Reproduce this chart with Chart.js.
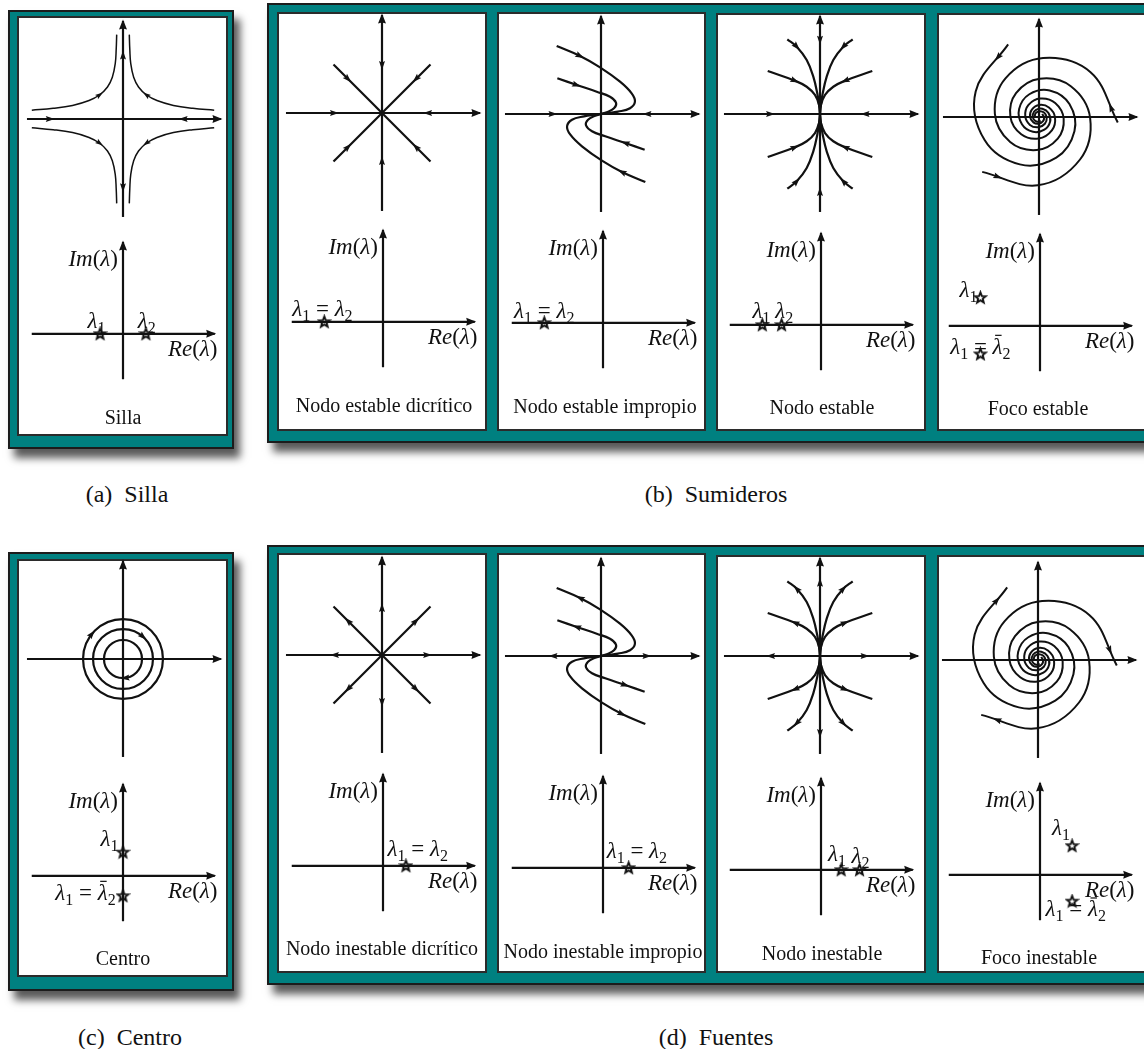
<!DOCTYPE html>
<html lang="es">
<head>
<meta charset="utf-8">
<title>Clasificación de puntos de equilibrio</title>
<script src="https://cdn.jsdelivr.net/npm/chart.js@4.4.1/dist/chart.umd.min.js"></script>
<style>
  body { margin:0; width:1144px; height:1049px; overflow:hidden; background:#fff; position:relative;
         font-family:"Liberation Serif","Times New Roman",serif; color:#111; }
  .frame { position:absolute; background:#008080; border:2px solid #1c1c1c; box-sizing:border-box;
           box-shadow:6px 9px 8px rgba(0,0,0,.65); }
  .panel { position:absolute; background:#fff; border:2px solid #2b2b2b; box-sizing:border-box; }
  canvas { position:absolute; }
  .cap { position:absolute; width:240px; text-align:center; font-size:20px; line-height:24px; white-space:nowrap; }
  .sub { position:absolute; width:300px; text-align:center; font-size:24px; line-height:28px; white-space:pre; }
</style>
</head>
<body>
<script>
// ---- data (axis units: each phase axis runs about -10..10) ----
const sillaBranch = [[-9.4,0.9],[-7.2,1.1],[-5.2,1.4],[-3.5,1.9],[-2.4,2.5],[-1.6,3.3],[-1.1,4.3],[-0.8,5.7],[-0.7,7.2],[-0.65,8.7]];
const dicriticoRay = [[-5,5],[-3.5,3.5],[0,0],[3.5,-3.5],[5,-5]];
const impropioOuter = [[-4.57,7.01],[-2.16,5.98],[-0.1,4.81],[1.96,3.33],[3.16,2.13],[3.5,1.27],[2.99,0.59],[1.75,0.24],[0.59,0.07],[0,0]];
const impropioInner = [[-4.5,3.68],[-2.5,2.99],[-0.44,2.3],[0.93,1.78],[1.55,1.16],[1.34,0.59],[0.59,0.18],[0,0]];
const nodoOuter = [[-3.37,7.7],[-2.4,6.94],[-1.37,5.57],[-0.69,3.85],[-0.28,2.13],[-0.07,0.75],[0,0]];
const nodoInner = [[-5.39,4.43],[-2.58,3.43],[-1.37,2.81],[-0.52,1.96],[-0.1,0.93],[0,0]];
// spiral arms: radius read every 45 degrees, three arms with these start angles
const focoRadii = [8.14,7.04,6.09,5.27,4.56,3.94,3.41,2.95,2.55,2.21,1.91,1.65,1.42,1.24,1.06,0.92,0.8,0.69,0.6,0.52,0.45];
const focoStartDeg = [-4, 113, 224];
const centroRadii = [4.12, 3.09, 1.96];
const centroArrowDeg = [141, 48, 276];

// eigenvalues (Re, Im)
const eigSilla = [[-2.5,0],[2.5,0]];
const eigDicEst = [[-6.4,0]];
const eigImpEst = [[-6.4,0]];
const eigNodoEst = [[-6.4,0],[-4.3,0]];
const eigFocoEst = [[-6.5,3.1],[-6.5,-3.1]];
const eigCentro = [[0,2.6],[0,-2.2]];
const eigDicInest = [[2.5,0]];
const eigImpInest = [[2.8,0]];
const eigNodoInest = [[2.2,0],[4.2,0]];
const eigFocoInest = [[3.5,3.2],[3.5,-2.9]];

const panelTitles = ['Silla','Nodo estable dicrítico','Nodo estable impropio','Nodo estable','Foco estable',
  'Centro','Nodo inestable dicrítico','Nodo inestable impropio','Nodo inestable','Foco inestable'];
const figureCaptions = ['(a)  Silla','(b)  Sumideros','(c)  Centro','(d)  Fuentes'];

// ---- drawing helpers ----
const INK = '#111';
const U = 9.7; // px per axis unit
const LW = 2.2;
const FONT = '"Liberation Serif","Times New Roman",serif';
const arrowSizes = { tip: [10, 8], mid: [9, 6], small: [8, 5] };

function evalAt(pts, f) {
  let i = Math.min(Math.floor(f), pts.length - 2);
  const t = f - i;
  const a = pts[i], b = pts[i + 1];
  const c1x = a.cp2x ?? a.x, c1y = a.cp2y ?? a.y, c2x = b.cp1x ?? b.x, c2y = b.cp1y ?? b.y;
  const m = 1 - t;
  const x = m*m*m*a.x + 3*m*m*t*c1x + 3*m*t*t*c2x + t*t*t*b.x;
  const y = m*m*m*a.y + 3*m*m*t*c1y + 3*m*t*t*c2y + t*t*t*b.y;
  let dx = 3*m*m*(c1x-a.x) + 6*m*t*(c2x-c1x) + 3*t*t*(b.x-c2x);
  let dy = 3*m*m*(c1y-a.y) + 6*m*t*(c2y-c1y) + 3*t*t*(b.y-c2y);
  if (Math.hypot(dx, dy) < 1e-6) { dx = b.x - a.x; dy = b.y - a.y; }
  return { x, y, dx, dy };
}

const arrowPlugin = {
  id: 'arrows',
  afterDatasetsDraw(chart) {
    const ctx = chart.ctx;
    chart.data.datasets.forEach((ds, i) => {
      if (!ds.arrows) return;
      const pts = chart.getDatasetMeta(i).data;
      ds.arrows.forEach(a => {
        const kind = a.kind || 'mid';
        const p = evalAt(pts, a.at === 'end' ? pts.length - 1 : a.at);
        const [L, W] = arrowSizes[kind];
        const n = Math.hypot(p.dx, p.dy);
        const ux = p.dx / n * a.dir, uy = p.dy / n * a.dir;
        const tx = kind === 'tip' ? p.x + ux * 1.5 : p.x + ux * L / 2;
        const ty = kind === 'tip' ? p.y + uy * 1.5 : p.y + uy * L / 2;
        const bx = tx - ux * L, by = ty - uy * L;
        const inset = kind === 'tip' ? 1 : 1.5;
        ctx.save();
        ctx.fillStyle = INK;
        ctx.beginPath();
        ctx.moveTo(tx, ty);
        ctx.lineTo(bx - uy * W / 2, by + ux * W / 2);
        ctx.lineTo(bx + ux * inset, by + uy * inset);
        ctx.lineTo(bx + uy * W / 2, by - ux * W / 2);
        ctx.closePath();
        ctx.fill();
        ctx.restore();
      });
    });
  }
};

function drawRich(ctx, segs, x, y, align, size) {
  let w = 0;
  const parts = segs.map(s => {
    const f = (s.i ? 'italic ' : '') + (s.sub ? Math.round(size * 0.7) : size) + 'px ' + FONT;
    ctx.font = f;
    const sw = ctx.measureText(s.t).width;
    w += sw;
    return { s, f, sw };
  });
  let cx = align === 'left' ? x : align === 'right' ? x - w : x - w / 2;
  const base = y + size * 0.3;
  ctx.fillStyle = INK; ctx.textBaseline = 'alphabetic'; ctx.textAlign = 'left';
  parts.forEach(({ s, f, sw }) => {
    ctx.font = f;
    ctx.fillText(s.t, cx, base + (s.sub ? size * 0.22 : 0));
    if (s.bar) ctx.fillRect(cx + sw * 0.25, base - size * 0.82, sw * 0.65, 1.2);
    cx += sw;
  });
}

function labelPlugin(items) {
  return {
    id: 'richLabels',
    afterDraw(chart) {
      const xs = chart.scales.x, ys = chart.scales.y;
      items.forEach(it => drawRich(chart.ctx, it.segs, xs.getPixelForValue(it.x), ys.getPixelForValue(it.y), it.align, it.size || 23));
    }
  };
}

const L = (n, bar) => [{ t: 'λ', i: true, bar }, { t: String(n), sub: true }];
const EQ = () => [{ t: ' = ' }];
const IM = () => [{ t: 'Im', i: true }, { t: '(' }, { t: 'λ', i: true }, { t: ')' }];
const RE = () => [{ t: 'Re', i: true }, { t: '(' }, { t: 'λ', i: true }, { t: ')' }];
const lab = (segs, x, y, align) => ({ segs, x, y, align });

function curve(list, o) {
  return Object.assign({ data: list.map(([x, y]) => ({ x, y })), showLine: true, pointRadius: 0,
    borderColor: INK, borderWidth: LW, tension: 0, clip: false, arrows: [] }, o);
}
function axesPair(hMarks, vMarks, h0 = -9.9, h1 = 10.1, v0 = -10.1, v1 = 10.1) {
  const h = [[h0, 0], ...hMarks.map(m => [m[0], 0]), [h1, 0]];
  const v = [[0, v0], ...vMarks.map(m => [0, m[0]]), [0, v1]];
  const mk = marks => marks.map((m, k) => ({ at: k + 1, dir: m[1] })).concat([{ at: 'end', dir: 1, kind: 'tip' }]);
  return [curve(h, { arrows: mk(hMarks) }), curve(v, { arrows: mk(vMarks) })];
}
const flip = (list, sx, sy) => list.map(([x, y]) => [x * sx, y * sy]);

// ---- phase portraits ----
function silla() {
  const ds = axesPair([[-7.5, 1], [6.2, -1]], [[-7.1, -1], [6.6, 1]]);
  [[1, 1], [-1, 1], [1, -1], [-1, -1]].forEach(([sx, sy]) =>
    ds.push(curve(flip(sillaBranch, sx, sy), { borderWidth: 1.5, tension: 0.4, arrows: [{ at: 4, dir: 1, kind: 'small' }] })));
  return ds;
}
function dicritico(s) {
  const ds = axesPair([[-4.9, s], [4.7, -s]], [[-4.9, s], [4.9, -s]]);
  [dicriticoRay, flip(dicriticoRay, -1, 1)].forEach(r =>
    ds.push(curve(r, { arrows: [{ at: 1, dir: s }, { at: 3, dir: -s }] })));
  return ds;
}
function impropio(s) {
  const ds = axesPair([[-4.95, s], [4.74, -s]], []);
  [impropioOuter, impropioInner].forEach(c => {
    const full = c.concat(c.slice(0, -1).reverse().map(([x, y]) => [-x, -y]));
    ds.push(curve(full, { tension: 0.4, arrows: [{ at: 1, dir: s }, { at: full.length - 2, dir: -s }] }));
  });
  return ds;
}
function nodo(s) {
  const ds = axesPair([[-5.1, s], [4.64, -s]], [[-8.0, s], [7.6, -s]]);
  [[1, 1], [-1, 1], [1, -1], [-1, -1]].forEach(([sx, sy]) => {
    ds.push(curve(flip(nodoOuter, sx, sy), { tension: 0.4, arrows: [{ at: 1, dir: s }] }));
    ds.push(curve(flip(nodoInner, sx, sy), { tension: 0.4, arrows: [{ at: 1, dir: s }] }));
  });
  return ds;
}
function foco(s) {
  const ds = axesPair([], []);
  focoStartDeg.forEach(a0 => {
    const arm = focoRadii.map((r, k) => {
      const a = (a0 + 45 * k) * Math.PI / 180;
      return [r * Math.cos(a), r * Math.sin(a)];
    });
    ds.push(curve(arm, { tension: 0.375, borderWidth: 2, arrows: [{ at: 0.27, dir: s }] }));
  });
  return ds;
}
function centro() {
  const ds = axesPair([], []);
  centroRadii.forEach((r, j) => {
    const ring = [];
    for (let k = -1; k <= 9; k++) {
      const a = 45 * k * Math.PI / 180;
      ring.push([r * Math.cos(a), r * Math.sin(a)]);
    }
    const last = ring.length - 1;
    ds.push(curve(ring, {
      tension: 0.375,
      segment: { borderColor: c => (c.p0DataIndex === 0 || c.p1DataIndex === last) ? 'rgba(0,0,0,0)' : INK },
      arrows: [{ at: 1 + centroArrowDeg[j] / 45, dir: -1 }]
    }));
  });
  return ds;
}

// star marker
const starImg = document.createElement('canvas');
starImg.width = 15; starImg.height = 15;
(function () {
  const g = starImg.getContext('2d');
  g.beginPath();
  for (let k = 0; k < 10; k++) {
    const r = k % 2 ? 2.4 : 5.6;
    const a = -Math.PI / 2 + k * Math.PI / 5;
    g.lineTo(7.5 + r * Math.cos(a), 7.8 + r * Math.sin(a));
  }
  g.closePath();
  g.fillStyle = '#fff'; g.fill();
  g.lineWidth = 1.9; g.strokeStyle = INK; g.lineJoin = 'miter'; g.stroke();
})();

function eigen(vals) {
  const ds = axesPair([], [], -9.95, 10, -5.0, 10.1);
  ds.push({ data: vals.map(([x, y]) => ({ x, y })), showLine: false, pointStyle: starImg, pointRadius: 5, clip: false });
  return ds;
}

function makeChart(cx, cy, w, h, ox, oy, datasets, labels) {
  const c = document.createElement('canvas');
  c.width = w; c.height = h;
  c.style.left = (cx - ox) + 'px'; c.style.top = (cy - oy) + 'px';
  document.body.appendChild(c);
  new Chart(c, {
    type: 'scatter',
    data: { datasets },
    options: {
      responsive: false, animation: false, devicePixelRatio: 1, events: [],
      layout: { padding: 0 },
      scales: {
        x: { type: 'linear', display: false, bounds: 'data', min: -ox / U, max: (w - ox) / U },
        y: { type: 'linear', display: false, bounds: 'data', min: -(h - oy) / U, max: oy / U }
      },
      plugins: { legend: { display: false }, tooltip: { enabled: false } }
    },
    plugins: [arrowPlugin, labelPlugin(labels)]
  });
}

// ---- layout ----
function box(cls, l, t, w, h) {
  const d = document.createElement('div');
  d.className = cls;
  Object.assign(d.style, { left: l + 'px', top: t + 'px', width: w + 'px', height: h + 'px' });
  document.body.appendChild(d);
}
function text(cls, str, cx, cy, w, lh) {
  const d = document.createElement('div');
  d.className = cls; d.textContent = str;
  d.style.left = (cx - w / 2) + 'px'; d.style.top = (cy - lh / 2) + 'px';
  document.body.appendChild(d);
}

box('frame', 8, 10, 226, 439);
box('frame', 267, 3, 900, 440);
box('frame', 8, 552, 226, 439);
box('frame', 267, 545, 900, 440);

const axisLabels = () => [lab(IM(), -0.55, 8.2, 'right'), lab(RE(), 10.3, -1.65, 'right')];
const panels = [
  { box: [17, 16, 211, 420], ph: [123, 119], ei: [123, 335], cap: [123, 417], phase: silla(), eig: eigSilla,
    labels: [lab(L(1), -2.9, 1.4, 'center'), lab(L(2), 2.6, 1.4, 'center')] },
  { box: [277, 12, 210, 419], ph: [382, 113], ei: [383, 323], cap: [384, 405], phase: dicritico(1), eig: eigDicEst,
    labels: [lab([...L(1), ...EQ(), ...L(2)], -9.9, 1.4, 'left')] },
  { box: [497, 12, 209, 419], ph: [601, 114], ei: [603, 324], cap: [605, 406], phase: impropio(1), eig: eigImpEst,
    labels: [lab([...L(1), ...EQ(), ...L(2)], -9.7, 1.3, 'left')] },
  { box: [716, 13, 210, 418], ph: [820, 114], ei: [821, 326], cap: [822, 407], phase: nodo(1), eig: eigNodoEst,
    labels: [lab(L(1), -6.5, 1.5, 'center'), lab(L(2), -4.0, 1.5, 'center')] },
  { box: [937, 13, 212, 418], ph: [1039, 117], ei: [1040, 327], cap: [1038, 408], phase: foco(1), eig: eigFocoEst,
    labels: [lab(L(1), -7.8, 3.9, 'center'), lab([...L(1), ...EQ(), ...L(2, true)], -6.5, -2.3, 'center')] },
  { box: [17, 559, 211, 418], ph: [123, 659], ei: [123, 877], cap: [123, 958], phase: centro(), eig: eigCentro,
    labels: [lab(L(1), -0.5, 4.0, 'right'), lab([...L(1), ...EQ(), ...L(2, true)], -0.8, -1.86, 'right')] },
  { box: [277, 553, 210, 420], ph: [382, 655], ei: [383, 867], cap: [382, 948], phase: dicritico(-1), eig: eigDicInest,
    labels: [lab([...L(1), ...EQ(), ...L(2)], 0.5, 1.8, 'left')] },
  { box: [497, 553, 209, 420], ph: [601, 656], ei: [603, 869], cap: [603, 951], phase: impropio(-1), eig: eigImpInest,
    labels: [lab([...L(1), ...EQ(), ...L(2)], 0.4, 1.8, 'left')] },
  { box: [716, 555, 210, 418], ph: [820, 656], ei: [821, 871], cap: [822, 953], phase: nodo(-1), eig: eigNodoInest,
    labels: [lab(L(1), 1.75, 1.7, 'center'), lab(L(2), 4.3, 1.5, 'center')] },
  { box: [937, 555, 212, 418], ph: [1038, 660], ei: [1040, 876], cap: [1039, 957], phase: foco(-1), eig: eigFocoInest,
    labels: [lab(L(1), 2.3, 5.1, 'center'), lab([...L(1), ...EQ(), ...L(2, true)], 3.9, -3.8, 'center')] }
];

panels.forEach((p, k) => {
  box('panel', ...p.box);
  makeChart(p.ph[0], p.ph[1], 214, 214, 107, 107, p.phase, []);
  makeChart(p.ei[0], p.ei[1], 220, 190, 110, 114, eigen(p.eig), axisLabels().concat(p.labels));
  text('cap', panelTitles[k], p.cap[0], p.cap[1], 240, 24);
});

text('sub', figureCaptions[0], 127, 494, 300, 28);
text('sub', figureCaptions[1], 716, 494, 300, 28);
text('sub', figureCaptions[2], 130, 1037, 300, 28);
text('sub', figureCaptions[3], 716, 1037, 300, 28);
</script>
</body>
</html>
